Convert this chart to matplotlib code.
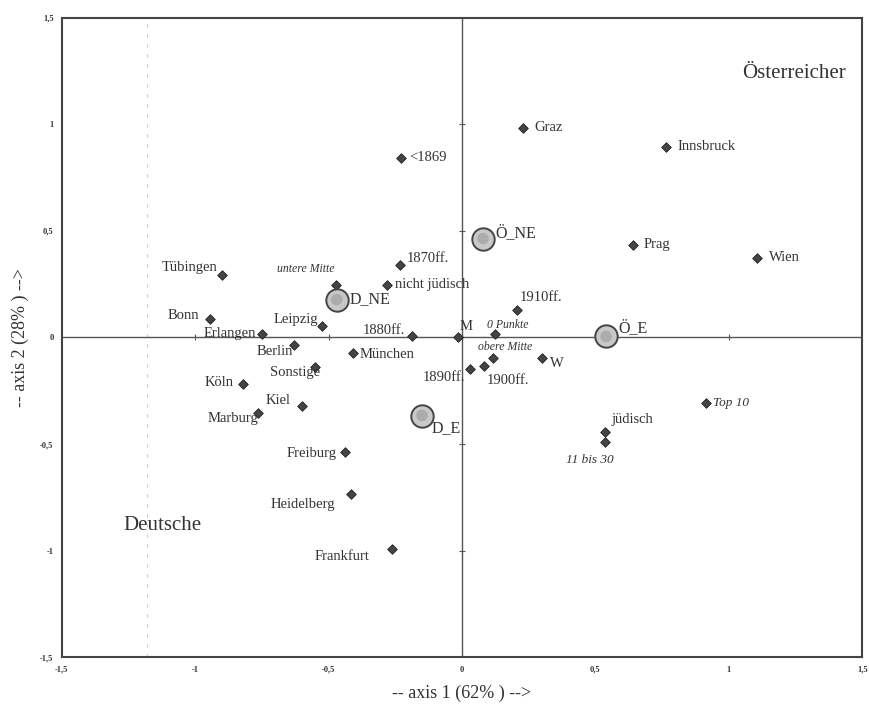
import matplotlib.pyplot as plt

plt.rcParams['font.family'] = ['Liberation Serif', 'DejaVu Serif']

# categories (diamonds)
labels = ['<1869', 'Graz', 'Innsbruck', 'Prag', 'Wien', '1870ff.', 'untere Mitte',
          'nicht jüdisch', 'Tübingen', 'Bonn', 'Erlangen', 'Leipzig', 'Berlin',
          'Sonstige', 'München', 'Köln', 'Kiel', 'Marburg', 'Freiburg', 'Heidelberg',
          'Frankfurt', '1880ff.', 'M', '0 Punkte', 'obere Mitte', '1910ff.', '1890ff.',
          '1900ff.', 'W', 'Top 10', 'jüdisch', '11 bis 30']
x = [-0.23, 0.23, 0.765, 0.64, 1.105, -0.232, -0.472,
     -0.281, -0.90, -0.945, -0.75, -0.525, -0.63,
     -0.551, -0.409, -0.821, -0.60, -0.765, -0.439, -0.416,
     -0.262, -0.187, -0.015, 0.124, 0.116, 0.206, 0.03,
     0.082, 0.30, 0.915, 0.536, 0.536]
y = [0.844, 0.985, 0.895, 0.436, 0.375, 0.338, 0.248,
     0.244, 0.295, 0.089, 0.014, 0.056, -0.033,
     -0.14, -0.075, -0.216, -0.323, -0.356, -0.539, -0.736,
     -0.994, 0.009, 0.0, 0.014, -0.098, 0.131, -0.15,
     -0.136, -0.098, -0.305, -0.445, -0.488]
italic = ['untere Mitte', '0 Punkte', 'obere Mitte', 'Top 10', '11 bis 30']

# group centres (circles)
grp_labels = ['D_NE', 'Ö_NE', 'Ö_E', 'D_E']
grp_x = [-0.469, 0.079, 0.54, -0.15]
grp_y = [0.178, 0.464, 0.005, -0.366]

ticks = [-1.5, -1, -0.5, 0, 0.5, 1, 1.5]
tick_labels = ['-1,5', '-1', '-0,5', '0', '0,5', '1', '1,5']

# label offsets in points (dx, dy, ha)
offs = {
    '<1869': (6, 0, 'left'), 'Graz': (8, 0, 'left'), 'Innsbruck': (8, 0, 'left'),
    'Prag': (8, 0, 'left'), 'Wien': (9, 0, 'left'), '1870ff.': (5, 5, 'left'),
    'untere Mitte': (-22, 11, 'center'), 'nicht jüdisch': (6, 1, 'left'),
    'Tübingen': (-3, 5, 'right'), 'Bonn': (-8, 2, 'right'), 'Erlangen': (-4, 1, 'right'),
    'Leipzig': (-3, 4, 'right'), 'Berlin': (-1, -5, 'right'), 'Sonstige': (-14, -4, 'center'),
    'München': (5, -1, 'left'), 'Köln': (-7, 1, 'right'), 'Kiel': (-17, 4, 'center'),
    'Marburg': (0, -4, 'right'), 'Freiburg': (-6, -1, 'right'), 'Heidelberg': (-35, -7, 'center'),
    'Frankfurt': (-36, -5, 'center'), '1880ff.': (-5, 4, 'right'), 'M': (1, 8, 'left'),
    '0 Punkte': (-6, 7, 'left'), 'obere Mitte': (9, 8, 'center'), '1910ff.': (2, 9, 'left'),
    '1890ff.': (-19, -6, 'center'), '1900ff.': (2, -10, 'left'), 'W': (6, -4, 'left'),
    'Top 10': (5, 0, 'left'), 'jüdisch': (5, 9, 'left'), '11 bis 30': (-11, -13, 'center'),
}
grp_offs = {'D_NE': (9, 0), 'Ö_NE': (9, 4), 'Ö_E': (9, 6), 'D_E': (7, -9)}

fig = plt.figure(figsize=(8.7, 7.09), dpi=100)
ax = fig.add_axes([0.071, 0.073, 0.92, 0.902])
ax.set_xlim(-1.5, 1.5)
ax.set_ylim(-1.5, 1.5)

txt = '#333333'
ax.axhline(0, color='#555555', lw=1.0, zorder=1)
ax.axvline(0, color='#555555', lw=1.0, zorder=1)
ax.axvline(-1.18, color='#cccccc', lw=0.8, ls=(0, (3, 6)), zorder=0)
ax.plot(ticks[1:-1], [0] * 5, ls='none', marker='|', ms=4, color='#555555', mew=0.8)
ax.plot([0] * 5, ticks[1:-1], ls='none', marker='_', ms=4, color='#555555', mew=0.8)

ax.scatter(x, y, marker='D', s=24, color='#444444', edgecolor='#222222', lw=0.6, zorder=3)
ax.scatter(grp_x, grp_y, marker='o', s=260, color='#c8c8c8', edgecolor='#444444', lw=1.4, zorder=3)
ax.scatter(grp_x, grp_y, marker='o', s=70, color='#9a9a9a', edgecolor='none', alpha=0.6, zorder=4)

for lab, xi, yi in zip(labels, x, y):
    dx, dy, ha = offs[lab]
    it = lab in italic
    fs = 10.5
    if it:
        fs = 8.5 if lab in ('0 Punkte', 'obere Mitte', 'untere Mitte') else 9.5
    ax.annotate(lab, (xi, yi), xytext=(dx, dy), textcoords='offset points',
                ha=ha, va='center', fontsize=fs,
                style='italic' if it else 'normal', color=txt)
for lab, xi, yi in zip(grp_labels, grp_x, grp_y):
    dx, dy = grp_offs[lab]
    ax.annotate(lab, (xi, yi), xytext=(dx, dy), textcoords='offset points',
                ha='left', va='center', fontsize=11.5, color=txt)

ax.text(-1.27, -0.88, 'Deutsche', fontsize=15, color=txt, ha='left', va='center')
ax.text(1.44, 1.24, 'Österreicher', fontsize=15, color=txt, ha='right', va='center')

ax.set_xticks(ticks)
ax.set_xticklabels(tick_labels)
ax.set_yticks(ticks)
ax.set_yticklabels(tick_labels)
ax.tick_params(length=0, labelsize=6, colors='#333333', pad=6)
for t in ax.get_xticklabels() + ax.get_yticklabels():
    t.set_fontweight('bold')
for s in ax.spines.values():
    s.set_color('#444444')
    s.set_linewidth(1.5)

ax.set_xlabel('-- axis 1 (62% ) -->', fontsize=13, color=txt, labelpad=8)
ax.set_ylabel('-- axis 2 (28% ) -->', fontsize=13, color=txt, labelpad=8)

fig.savefig('out.png', dpi=100)
